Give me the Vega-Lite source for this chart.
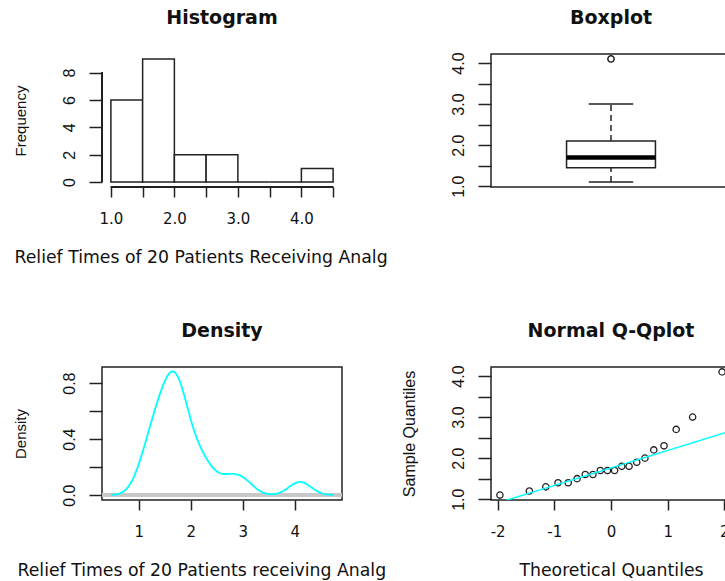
{
  "$schema": "https://vega.github.io/schema/vega-lite/v6.json",
  "background": "white",
  "autosize": {"type": "none"},
  "padding": {"left": 102, "top": 54, "right": 623, "bottom": 527},
  "columns": 2,
  "bounds": "flush",
  "spacing": {"row": 180, "column": 149},
  "config": {
    "view": {"stroke": "#222", "strokeWidth": 1.5},
    "axis": {"domain": false, "grid": false, "ticks": true, "tickCount": 50, "tickColor": "#222", "tickWidth": 1.5, "labelColor": "#111", "titleColor": "#111", "titleFontWeight": "normal", "labelOverlap": false, "labelFlush": false, "labelBound": false},
    "axisX": {"labelFont": "DejaVu Sans", "labelFontSize": 15, "tickSize": 10, "labelPadding": 14, "labelAngle": 0, "titleFont": "DejaVu Sans", "titleFontSize": 17.3, "titleY": 75, "titleBaseline": "alphabetic"},
    "axisY": {"labelFont": "Liberation Sans", "labelFontSize": 16, "tickSize": 13, "labelPadding": 15, "labelAngle": 270, "labelAlign": "center", "labelBaseline": "alphabetic", "titleFont": "Liberation Sans", "titleFontSize": 15, "titleAngle": 270, "titleX": -77, "titleY": 66.5, "titleAlign": "center", "titleBaseline": "alphabetic"},
    "title": {"font": "DejaVu Sans", "fontSize": 19, "fontWeight": "bold", "color": "#111", "anchor": "middle", "frame": "group", "baseline": "alphabetic", "offset": 26}
  },
  "concat": [
    {
      "title": "Histogram",
      "width": 240, "height": 133,
      "view": {"stroke": null},
      "data": {"values": [
        {"start": 1.0, "end": 1.5, "count": 6},
        {"start": 1.5, "end": 2.0, "count": 9},
        {"start": 2.0, "end": 2.5, "count": 2},
        {"start": 2.5, "end": 3.0, "count": 2},
        {"start": 3.0, "end": 3.5, "count": 0},
        {"start": 3.5, "end": 4.0, "count": 0},
        {"start": 4.0, "end": 4.5, "count": 1}
      ]},
      "layer": [
        {
          "mark": {"type": "rect", "fill": "white", "stroke": "#222", "strokeWidth": 1.5},
          "encoding": {
            "x": {"field": "start", "type": "quantitative", "scale": {"domain": [0.86, 4.64], "nice": false, "zero": false},
              "axis": {"values": [1, 1.5, 2, 2.5, 3, 3.5, 4, 4.5], "labelExpr": "datum.value % 1 === 0 ? format(datum.value, '.1f') : ''", "title": "Relief Times of 20 Patients Receiving Analg", "titleX": -88, "titleAlign": "left"}},
            "x2": {"field": "end"},
            "y": {"field": "count", "type": "quantitative", "scale": {"domain": [-0.36, 9.36], "nice": false, "zero": false},
              "axis": {"values": [0, 2, 4, 6, 8], "format": "d", "title": "Frequency"}},
            "y2": {"datum": 0}
          }
        },
        {
          "mark": {"type": "rule", "color": "#222", "strokeWidth": 1.5},
          "encoding": {"x": {"datum": 1.0, "type": "quantitative"}, "x2": {"datum": 4.5}, "y": {"datum": -0.36, "type": "quantitative"}}
        },
        {
          "mark": {"type": "rule", "color": "#222", "strokeWidth": 1.5},
          "encoding": {"x": {"datum": 0.86, "type": "quantitative"}, "y": {"datum": 0, "type": "quantitative"}, "y2": {"datum": 8}}
        }
      ]
    },
    {
      "title": {"text": "Boxplot", "offset": 24},
      "width": 240, "height": 133,
      "data": {"values": [{"min": 1.1, "q1": 1.45, "median": 1.7, "q3": 2.1, "max": 3.0}]},
      "layer": [
        {
          "mark": {"type": "rule", "color": "#222", "strokeWidth": 1.5, "strokeDash": [6, 4]},
          "encoding": {
            "x": {"datum": 1, "type": "quantitative", "scale": {"domain": [0.46, 1.54], "nice": false, "zero": false}, "axis": null},
            "y": {"field": "q3", "type": "quantitative", "scale": {"domain": [0.98, 4.22], "nice": false, "zero": false},
              "axis": {"values": [1, 1.5, 2, 2.5, 3, 3.5, 4], "labelExpr": "datum.value % 1 === 0 ? format(datum.value, '.1f') : ''", "title": null}},
            "y2": {"field": "max"}
          }
        },
        {
          "mark": {"type": "rule", "color": "#222", "strokeWidth": 1.5, "strokeDash": [6, 4]},
          "encoding": {"x": {"datum": 1, "type": "quantitative"}, "y": {"field": "min", "type": "quantitative"}, "y2": {"field": "q1"}}
        },
        {
          "mark": {"type": "rule", "color": "#222", "strokeWidth": 1.5},
          "encoding": {"x": {"datum": 0.9, "type": "quantitative"}, "x2": {"datum": 1.1}, "y": {"field": "max", "type": "quantitative"}}
        },
        {
          "mark": {"type": "rule", "color": "#222", "strokeWidth": 1.5},
          "encoding": {"x": {"datum": 0.9, "type": "quantitative"}, "x2": {"datum": 1.1}, "y": {"field": "min", "type": "quantitative"}}
        },
        {
          "mark": {"type": "rect", "fill": "white", "stroke": "#222", "strokeWidth": 1.5},
          "encoding": {"x": {"datum": 0.8, "type": "quantitative"}, "x2": {"datum": 1.2}, "y": {"field": "q1", "type": "quantitative"}, "y2": {"field": "q3"}}
        },
        {
          "mark": {"type": "rule", "color": "#000", "strokeWidth": 4.5},
          "encoding": {"x": {"datum": 0.8, "type": "quantitative"}, "x2": {"datum": 1.2}, "y": {"field": "median", "type": "quantitative"}}
        },
        {
          "data": {"values": [{"outlier": 4.1}]},
          "mark": {"type": "point", "shape": "circle", "filled": false, "color": "#222", "strokeWidth": 1.5, "size": 40, "opacity": 1},
          "encoding": {"x": {"datum": 1, "type": "quantitative"}, "y": {"field": "outlier", "type": "quantitative"}}
        }
      ]
    },
    {
      "title": "Density",
      "width": 240, "height": 133,
      "data": {"values": [
        {"t": 1.1}, {"t": 1.4}, {"t": 1.3}, {"t": 1.7}, {"t": 1.9}, {"t": 1.8}, {"t": 1.6}, {"t": 2.2}, {"t": 1.7}, {"t": 2.7},
        {"t": 4.1}, {"t": 1.8}, {"t": 1.5}, {"t": 1.2}, {"t": 1.4}, {"t": 3.0}, {"t": 1.7}, {"t": 2.3}, {"t": 1.6}, {"t": 2.0}
      ]},
      "layer": [
        {
          "mark": {"type": "rule", "color": "#c8c8c8", "strokeWidth": 2.5},
          "encoding": {"y": {"datum": 0, "type": "quantitative"}}
        },
        {
          "transform": [{"density": "t", "bandwidth": 0.2121, "extent": [0.464, 4.736], "steps": 200, "as": ["t", "density"]}],
          "mark": {"type": "line", "color": "#00FFFF", "strokeWidth": 1.8},
          "encoding": {
            "x": {"field": "t", "type": "quantitative", "scale": {"domain": [0.293, 4.907], "nice": false, "zero": false},
              "axis": {"values": [1, 2, 3, 4], "format": "d", "title": "Relief Times of 20 Patients receiving Analg", "titleX": -85, "titleAlign": "left"}},
            "y": {"field": "density", "type": "quantitative", "scale": {"domain": [-0.035, 0.915], "nice": false, "zero": false},
              "axis": {"values": [0, 0.2, 0.4, 0.6, 0.8], "labelExpr": "round(datum.value*10) % 4 === 0 ? format(datum.value, '.1f') : ''", "title": "Density"}}
          }
        }
      ]
    },
    {
      "title": {"text": "Normal Q-Qplot", "offset": 24},
      "width": 240, "height": 133,
      "data": {"values": [
        {"theo": -1.960, "sample": 1.1}, {"theo": -1.440, "sample": 1.2}, {"theo": -1.150, "sample": 1.3}, {"theo": -0.935, "sample": 1.4},
        {"theo": -0.755, "sample": 1.4}, {"theo": -0.598, "sample": 1.5}, {"theo": -0.454, "sample": 1.6}, {"theo": -0.319, "sample": 1.6},
        {"theo": -0.189, "sample": 1.7}, {"theo": -0.063, "sample": 1.7}, {"theo": 0.063, "sample": 1.7}, {"theo": 0.189, "sample": 1.8},
        {"theo": 0.319, "sample": 1.8}, {"theo": 0.454, "sample": 1.9}, {"theo": 0.598, "sample": 2.0}, {"theo": 0.755, "sample": 2.2},
        {"theo": 0.935, "sample": 2.3}, {"theo": 1.150, "sample": 2.7}, {"theo": 1.440, "sample": 3.0}, {"theo": 1.960, "sample": 4.1}
      ]},
      "layer": [
        {
          "mark": {"type": "point", "shape": "circle", "filled": false, "color": "#222", "strokeWidth": 1.3, "size": 40, "opacity": 1},
          "encoding": {
            "x": {"field": "theo", "type": "quantitative", "scale": {"domain": [-2.117, 2.117], "nice": false, "zero": false},
              "axis": {"values": [-2, -1, 0, 1, 2], "labelExpr": "'' + datum.value", "title": "Theoretical Quantiles", "titleX": 120, "titleAlign": "center"}},
            "y": {"field": "sample", "type": "quantitative", "scale": {"domain": [0.98, 4.22], "nice": false, "zero": false},
              "axis": {"values": [1, 1.5, 2, 2.5, 3, 3.5, 4], "labelExpr": "datum.value % 1 === 0 ? format(datum.value, '.1f') : ''", "title": "Sample Quantiles", "titleFontSize": 16}}
          }
        },
        {
          "data": {"values": [{"theo": -2.3, "sample": 0.782}, {"theo": 2.3, "sample": 2.743}]},
          "mark": {"type": "line", "color": "#00FFFF", "strokeWidth": 1.5, "clip": true},
          "encoding": {"x": {"field": "theo", "type": "quantitative"}, "y": {"field": "sample", "type": "quantitative"}}
        }
      ]
    }
  ]
}
